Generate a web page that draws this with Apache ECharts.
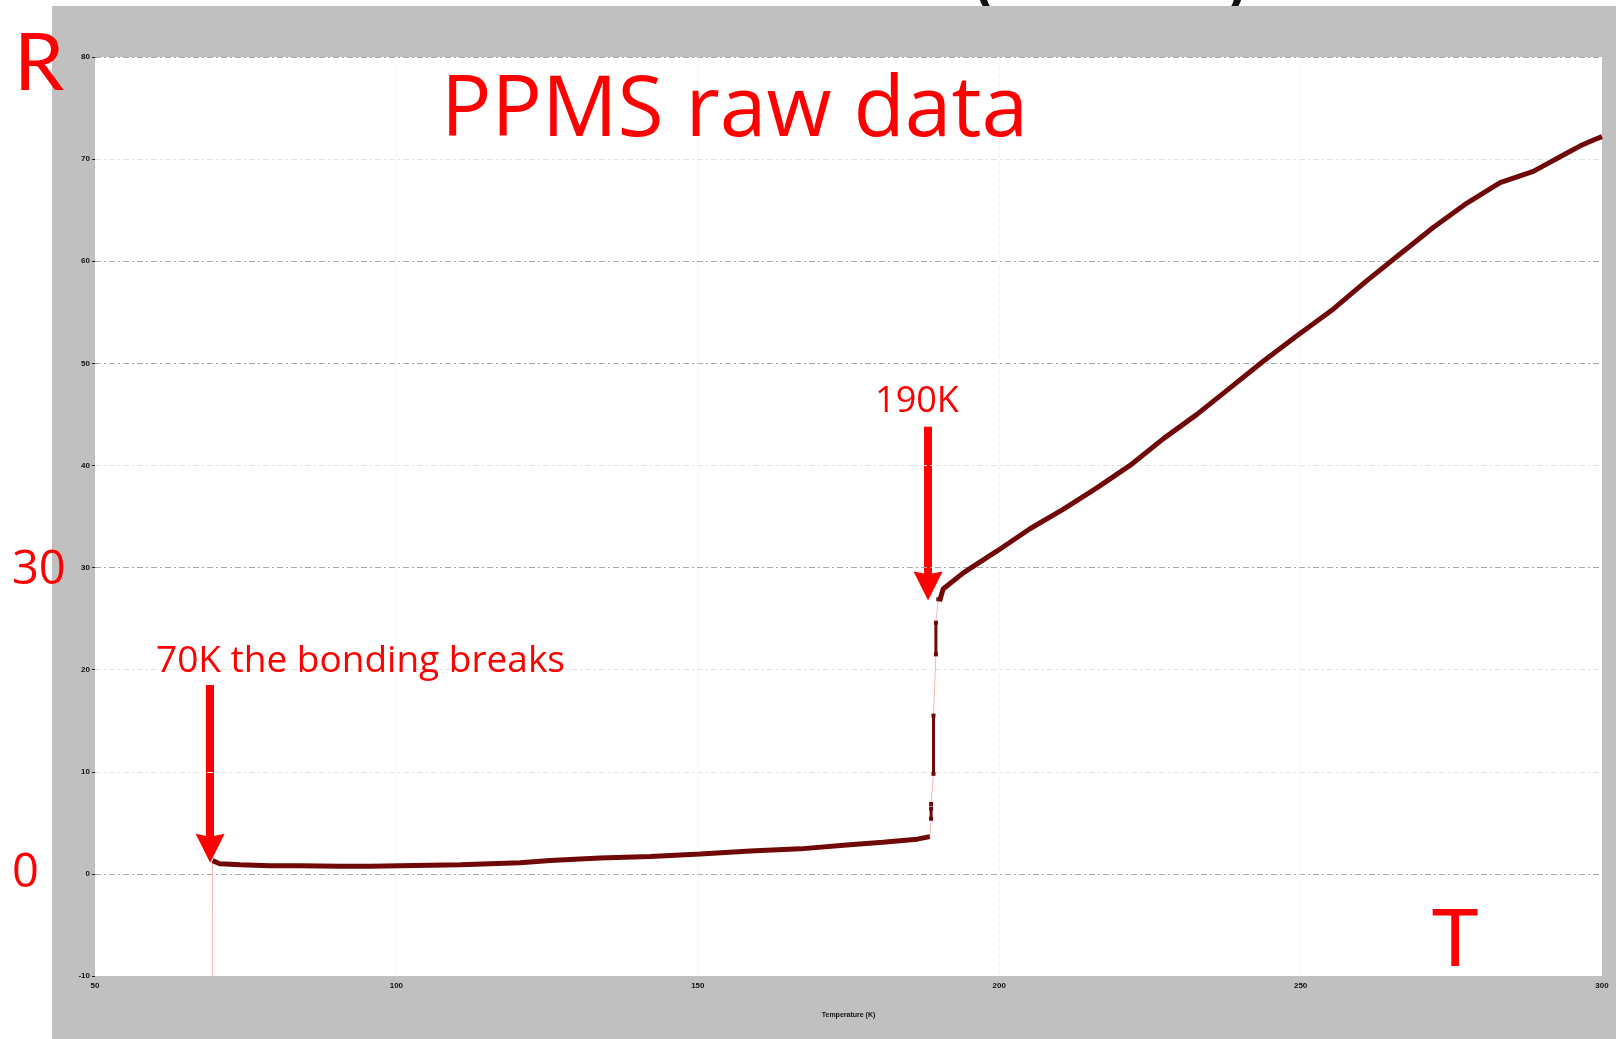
<!DOCTYPE html>
<html>
<head>
<meta charset="utf-8">
<title>PPMS raw data</title>
<script src="https://cdn.jsdelivr.net/npm/echarts@6/dist/echarts.min.js"></script>
<style>
  html, body { margin: 0; padding: 0; background: #ffffff; }
  #chart { width: 1616px; height: 1039px; }
</style>
</head>
<body>
<div id="chart"></div>
<script>
// Axis ticks
const tempTicks = [50, 100, 150, 200, 250, 300];
const resTicks = [-10, 0, 10, 20, 30, 40, 50, 60, 70, 80];

// First reading sits below the plotted range (off-scale)
const startT = [69.4];
const startR = [-30];

// Low-temperature branch (K, resistance)
const lowT = [69.5, 70.7, 74.1, 79.0, 84.0, 90.6, 95.6, 100.6, 105.6, 110.6, 115.5, 120.5,
              125.5, 133.8, 142.1, 150.4, 158.7, 167.0, 175.2, 180.7, 186.4, 188.5];
const lowR = [1.3, 1.0, 0.9, 0.8, 0.8, 0.75, 0.75, 0.8, 0.85, 0.9, 1.0, 1.1,
              1.3, 1.55, 1.7, 1.95, 2.25, 2.45, 2.85, 3.1, 3.4, 3.65];

// Readings taken during the jump (null separates the recorded clusters)
const jumpT = [188.7, 188.7, null, 188.7, null, 189.1, 189.1, null, 189.5, 189.5, null, 189.9];
const jumpR = [5.4, 6.4, null, 6.85, null, 9.8, 15.5, null, 21.5, 24.6, null, 26.9];

// High-temperature branch
const highT = [190.1, 190.7, 194.1, 199.6, 205.1, 210.6, 216.2, 221.7, 227.2, 232.8, 238.3,
               243.8, 249.4, 255.4, 261.0, 266.5, 272.0, 277.6, 283.1, 288.6, 294.2, 296.4,
               298.7, 300.0];
const highR = [26.7, 27.9, 29.5, 31.6, 33.8, 35.7, 37.8, 40.0, 42.6, 45.0, 47.6,
               50.2, 52.7, 55.3, 58.1, 60.7, 63.3, 65.7, 67.7, 68.8, 70.6, 71.3,
               71.9, 72.2];

// Arrow annotations: temperature, tail and end point in resistance units
const arrowT = [69.1, 188.2];
const arrowFrom = [18.5, 43.8];
const arrowTo = [2.5, 28.2];

const pairs = (xs, ys) => xs.map((x, i) => (x === null ? [null, null] : [x, ys[i]]));
const lowData = pairs(lowT, lowR);
const jumpData = pairs(jumpT, jumpR);
const highData = pairs(highT, highR);
// Thin trace through every reading in acquisition order
const traceData = pairs(startT, startR)
  .concat(lowData)
  .concat(jumpData.filter(p => p[0] !== null))
  .concat(highData);

const DARK = '#700808';
const RED = '#ff0000';
const SANS = '"Open Sans", "Noto Sans", sans-serif';
const LATO = 'Lato, "Noto Sans", sans-serif';
// arrow head pointing along the line, with a shallow notch at its base
const ARROW_HEAD = 'path://M5,0 L10,10 L5,9 L0,10 Z';

const chart = echarts.init(document.getElementById('chart'), null, { renderer: 'canvas' });

const option = {
  backgroundColor: '#ffffff',
  animation: false,
  grid: {
    left: 95, right: 14, top: 57, bottom: 63,
    show: true, backgroundColor: '#ffffff', borderWidth: 0, z: 5
  },
  xAxis: {
    type: 'value',
    min: tempTicks[0], max: tempTicks[tempTicks.length - 1], interval: 50,
    z: 6,
    name: 'Temperature (K)',
    nameLocation: 'middle',
    nameGap: 36,
    nameTextStyle: { fontSize: 7, color: '#111', fontFamily: 'Liberation Sans', fontWeight: 'bold' },
    axisLine: { show: false },
    axisTick: { show: false },
    axisLabel: { fontSize: 8, color: '#111', margin: 6, fontFamily: 'Liberation Sans', fontWeight: 'bold' },
    splitLine: {
      show: true,
      lineStyle: { color: ['rgba(0,0,0,0)', '#f1f1f1', '#f1f1f1', '#f1f1f1', '#f1f1f1', 'rgba(0,0,0,0)'], type: [4, 4], width: 1 }
    }
  },
  yAxis: {
    type: 'value',
    min: resTicks[0], max: resTicks[resTicks.length - 1], interval: 10,
    z: 6,
    axisLine: { show: false },
    axisTick: { show: true, length: 3, lineStyle: { color: '#222' } },
    axisLabel: { fontSize: 8, color: '#111', margin: 5, fontFamily: 'Liberation Sans', fontWeight: 'bold' },
    splitLine: {
      show: true,
      lineStyle: {
        color: ['rgba(0,0,0,0)', '#a8a8a8', '#e2e2e2', '#e2e2e2', '#a8a8a8', '#e2e2e2', '#a8a8a8', '#a8a8a8', '#e2e2e2', '#a8a8a8'],
        type: [6, 3, 2, 3],
        width: 1
      }
    }
  },
  series: [
    {
      name: 'trace',
      type: 'line',
      data: traceData,
      z: 8,
      symbol: 'none',
      lineStyle: { color: '#f8b4b4', width: 1 },
      silent: true
    },
    {
      name: 'R low',
      type: 'line',
      data: lowData,
      z: 10,
      symbol: 'none',
      lineStyle: { color: DARK, width: 5 },
      markLine: {
        silent: true,
        symbol: ['none', ARROW_HEAD],
        symbolSize: 29,
        lineStyle: { color: RED, width: 8, type: 'solid' },
        label: { show: false },
        data: arrowT.map((t, i) => [
          { coord: [t, arrowFrom[i]] },
          { coord: [t, arrowTo[i]] }
        ])
      }
    },
    {
      name: 'R jump',
      type: 'line',
      data: jumpData,
      z: 10,
      connectNulls: false,
      showSymbol: true,
      symbol: 'rect',
      symbolSize: 4,
      itemStyle: { color: DARK },
      lineStyle: { color: DARK, width: 3 }
    },
    {
      name: 'R high',
      type: 'line',
      data: highData,
      z: 10,
      symbol: 'none',
      lineStyle: { color: DARK, width: 5 }
    }
  ],
  graphic: [
    // fragments of the slide heading above the plot frame
    { type: 'text', z: 0, x: 985, y: -62, style: { text: '(', font: '80px "Noto Sans"', fill: '#111', textAlign: 'center' } },
    { type: 'text', z: 0, x: 1236, y: -62, style: { text: ')', font: '80px "Noto Sans"', fill: '#111', textAlign: 'center' } },
    // gray instrument frame
    { type: 'rect', z: 1, shape: { x: 52, y: 6, width: 1564, height: 1033 }, style: { fill: '#c0c0c0' }, silent: true },
    // red annotations
    { type: 'text', z: 100, x: 441, y: 112, style: { text: 'PPMS raw data', font: '84px ' + SANS, fill: RED, textVerticalAlign: 'middle' } },
    { type: 'text', z: 100, x: 14, y: 64, style: { text: 'R', font: '80px ' + LATO, fill: RED, textVerticalAlign: 'middle' } },
    { type: 'text', z: 100, x: 12, y: 571, style: { text: '30', font: '47px ' + SANS, fill: RED, textVerticalAlign: 'middle' } },
    { type: 'text', z: 100, x: 12, y: 874, style: { text: '0', font: '47px ' + SANS, fill: RED, textVerticalAlign: 'middle' } },
    { type: 'text', z: 100, x: 1455, y: 940, style: { text: 'T', font: '80px ' + LATO, fill: RED, textAlign: 'center', textVerticalAlign: 'middle' } },
    { type: 'text', z: 100, x: 156, y: 661, style: { text: '70K the bonding breaks', font: '37px ' + SANS, fill: RED, textVerticalAlign: 'middle' } },
    { type: 'text', z: 100, x: 917, y: 402, style: { text: '190K', font: '36px ' + SANS, fill: RED, textAlign: 'center', textVerticalAlign: 'middle' } }
  ]
};

chart.setOption(option);
</script>
</body>
</html>
